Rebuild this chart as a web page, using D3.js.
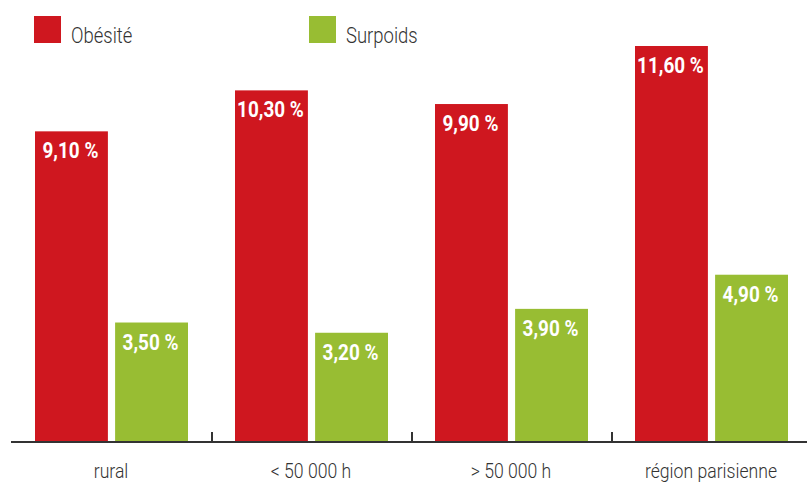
<!DOCTYPE html>
<html>
<head>
<meta charset="utf-8">
<script src="https://cdn.jsdelivr.net/npm/d3@7"></script>
<style>
  body { margin: 0; background: #fff; }
  text { font-family: Roboto, "Liberation Sans", sans-serif; }
</style>
</head>
<body>
<div id="chart"></div>
<script>
(function (d3) {
  'use strict';

  var categories = ['rural', '< 50 000 h', '> 50 000 h', 'région parisienne'];
  var seriesNames = ['Obésité', 'Surpoids'];
  var obesite = [9.10, 10.30, 9.90, 11.60];
  var surpoids = [3.50, 3.20, 3.90, 4.90];
  var colors = ['#cf171f', '#98bd33'];

  var width = 807,
      height = 482,
      baseline = 442;

  var svg = d3.select('#chart').append('svg')
      .attr('width', width)
      .attr('height', height);

  // fake a condensed face by squeezing the text horizontally
  function narrow(sel, x, y, sx) {
    sel.attr('transform', function (d, i) {
      var xx = typeof x === 'function' ? x(d, i) : x,
          yy = typeof y === 'function' ? y(d, i) : y;
      return 'translate(' + xx + ',' + yy + ') scale(' + (sx || 0.84) + ',1)';
    });
  }

  var x = d3.scaleBand()
      .domain(categories)
      .range([12, 812]);

  var inner = d3.scaleBand()
      .domain(seriesNames)
      .range([23, 176])
      .paddingInner(0.09);

  var y = d3.scaleLinear()
      .domain([0, 11.6])
      .range([baseline, 46]);

  var rows = categories.map(function (c, i) {
    return { cat: c, values: [obesite[i], surpoids[i]] };
  });

  var groups = svg.selectAll('g.group').data(rows).enter()
      .append('g')
        .attr('class', 'group')
        .attr('transform', function (d) { return 'translate(' + x(d.cat) + ',0)'; });

  var bars = groups.selectAll('g.bar')
      .data(function (d) { return d.values.map(function (v, j) { return { s: seriesNames[j], v: v, j: j }; }); })
      .enter().append('g').attr('class', 'bar');

  bars.append('rect')
      .attr('x', function (d) { return inner(d.s); })
      .attr('y', function (d) { return y(d.v); })
      .attr('width', inner.bandwidth())
      .attr('height', function (d) { return baseline - y(d.v); })
      .attr('fill', function (d) { return colors[d.j]; });

  bars.append('text')
      .attr('text-anchor', 'middle')
      .attr('fill', '#fff')
      .attr('font-weight', 'bold')
      .attr('font-size', 22)
      .text(function (d) { return d3.format('.2f')(d.v).replace('.', ',') + ' %'; })
      .call(narrow,
            function (d) { return inner(d.s) + inner.bandwidth() / 2 - 1; },
            function (d) { return y(d.v) + 27; },
            0.86);

  // axis
  var axis = svg.append('g')
      .attr('transform', 'translate(0,' + baseline + ')')
      .call(d3.axisBottom(x).tickSize(0).tickPadding(0))
      .call(function (g) { g.select('.domain').remove(); });

  axis.append('line')
      .attr('x1', 11).attr('x2', width)
      .attr('stroke', '#333').attr('stroke-width', 2);

  axis.selectAll('line.tick-mark')
      .data(categories.slice(1)).enter()
      .append('line')
        .attr('class', 'tick-mark')
        .attr('x1', function (d) { return x(d); })
        .attr('x2', function (d) { return x(d); })
        .attr('y1', -10).attr('y2', 0)
        .attr('stroke', '#333').attr('stroke-width', 2);

  axis.selectAll('.tick text')
      .attr('font-family', 'Roboto, "Liberation Sans", sans-serif')
      .attr('font-weight', 300)
      .attr('font-size', 21)
      .attr('fill', '#333')
      .attr('y', null)
      .attr('dy', null)
      .call(narrow, -1, 36);

  // legend
  var legendX = [34, 309];
  var legend = svg.selectAll('g.legend').data(seriesNames).enter()
      .append('g')
        .attr('class', 'legend')
        .attr('transform', function (d, i) { return 'translate(' + legendX[i] + ',16)'; });

  legend.append('rect')
      .attr('width', 27).attr('height', 27)
      .attr('fill', function (d, i) { return colors[i]; });

  legend.append('text')
      .attr('font-size', 22)
      .attr('font-weight', 300)
      .attr('fill', '#333')
      .text(function (d) { return d; })
      .call(narrow, 37, 27);
})(d3);
</script>
</body>
</html>
